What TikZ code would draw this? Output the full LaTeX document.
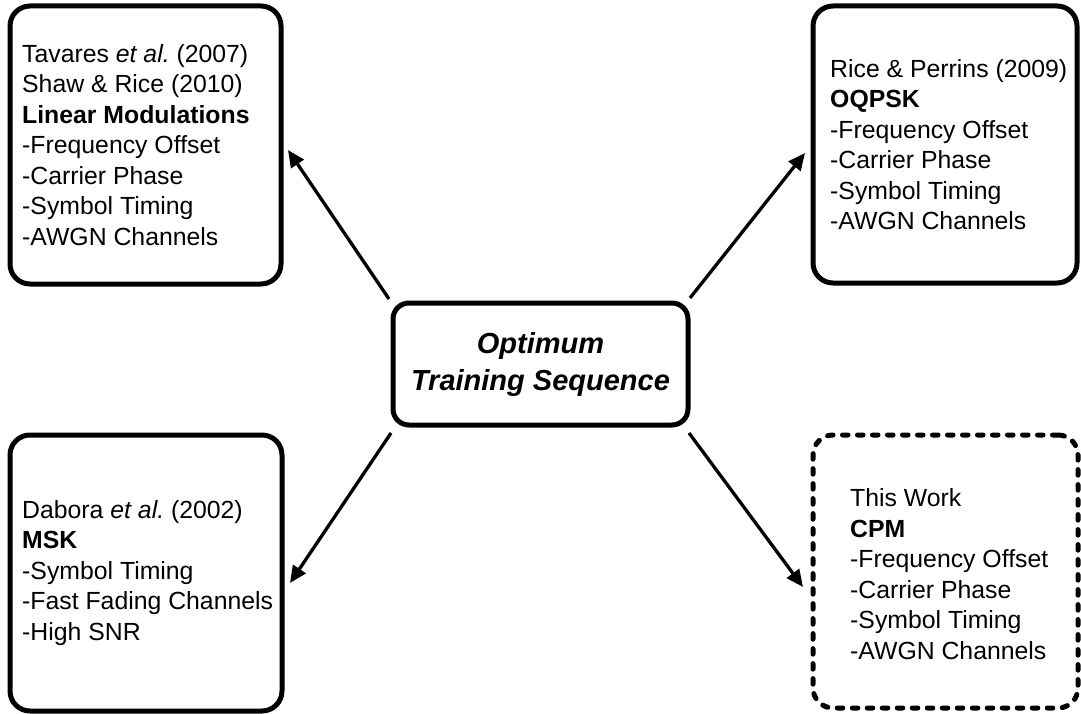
\documentclass[tikz,border=0pt]{standalone}
\usepackage{fontspec}
\setmainfont{Liberation Sans}
\usetikzlibrary{arrows.meta}
\frenchspacing
\begin{document}
\begin{tikzpicture}[x=1pt,y=-1pt,
  sidebox/.style={draw=black,line width=5pt,rounded corners=20pt,inner sep=0pt,rectangle},
  dashbox/.style={sidebox,line cap=round,dash pattern=on 5.5pt off 9.5pt},
  centerbox/.style={draw=black,line width=5pt,rounded corners=16pt,inner sep=0pt,
    minimum width=295pt,minimum height=122pt,align=center,
    font=\fontsize{29}{37}\selectfont\bfseries\itshape},
  sidetext/.style={anchor=west,align=left,inner sep=0pt,font=\fontsize{24.8}{30.5}\selectfont},
  arr/.style={line width=3.3pt,-{Triangle[length=17pt,width=15pt]}}]
\useasboundingbox (0,0) rectangle (1081,714);
% boxes
\node[sidebox,minimum width=271pt,minimum height=278pt] (tl) at (145.5,145) {};
\node[sidebox,minimum width=264pt,minimum height=277pt] (tr) at (945,144.5) {};
\node[sidebox,minimum width=272pt,minimum height=276pt] (bl) at (146,573) {};
\node[dashbox,minimum width=265pt,minimum height=273pt] (br) at (945.5,571.5) {};
\node[centerbox] (c) at (540.5,364) {Optimum\\Training Sequence};
% texts
\node[sidetext] (tltext) at (22,145) {Tavares {\itshape et al.}\ (2007)\\Shaw \& Rice (2010)\\\textbf{Linear Modulations}\\-Frequency Offset\\-Carrier Phase\\-Symbol Timing\\-AWGN Channels};
\node[sidetext] (trtext) at (830,144.5) {Rice \& Perrins (2009)\\\textbf{OQPSK}\\-Frequency Offset\\-Carrier Phase\\-Symbol Timing\\-AWGN Channels};
\node[sidetext] (bltext) at (22,573) {Dabora {\itshape et al.}\ (2002)\\\textbf{MSK}\\-Symbol Timing\\-Fast Fading Channels\\-High SNR};
\node[sidetext] (brtext) at (850,574) {This Work\\\textbf{CPM}\\-Frequency Offset\\-Carrier Phase\\-Symbol Timing\\-AWGN Channels};
% arrow ends
\coordinate (s1) at (389,299);
\coordinate (e1) at (288,150);
\coordinate (s2) at (690,298);
\coordinate (e2) at (805,153);
\coordinate (s3) at (391,433);
\coordinate (e3) at (290,583);
\coordinate (s4) at (689,433);
\coordinate (e4) at (803,587);
\draw[arr] (s1) -- (e1);
\draw[arr] (s2) -- (e2);
\draw[arr] (s3) -- (e3);
\draw[arr] (s4) -- (e4);
\end{tikzpicture}
\end{document}
